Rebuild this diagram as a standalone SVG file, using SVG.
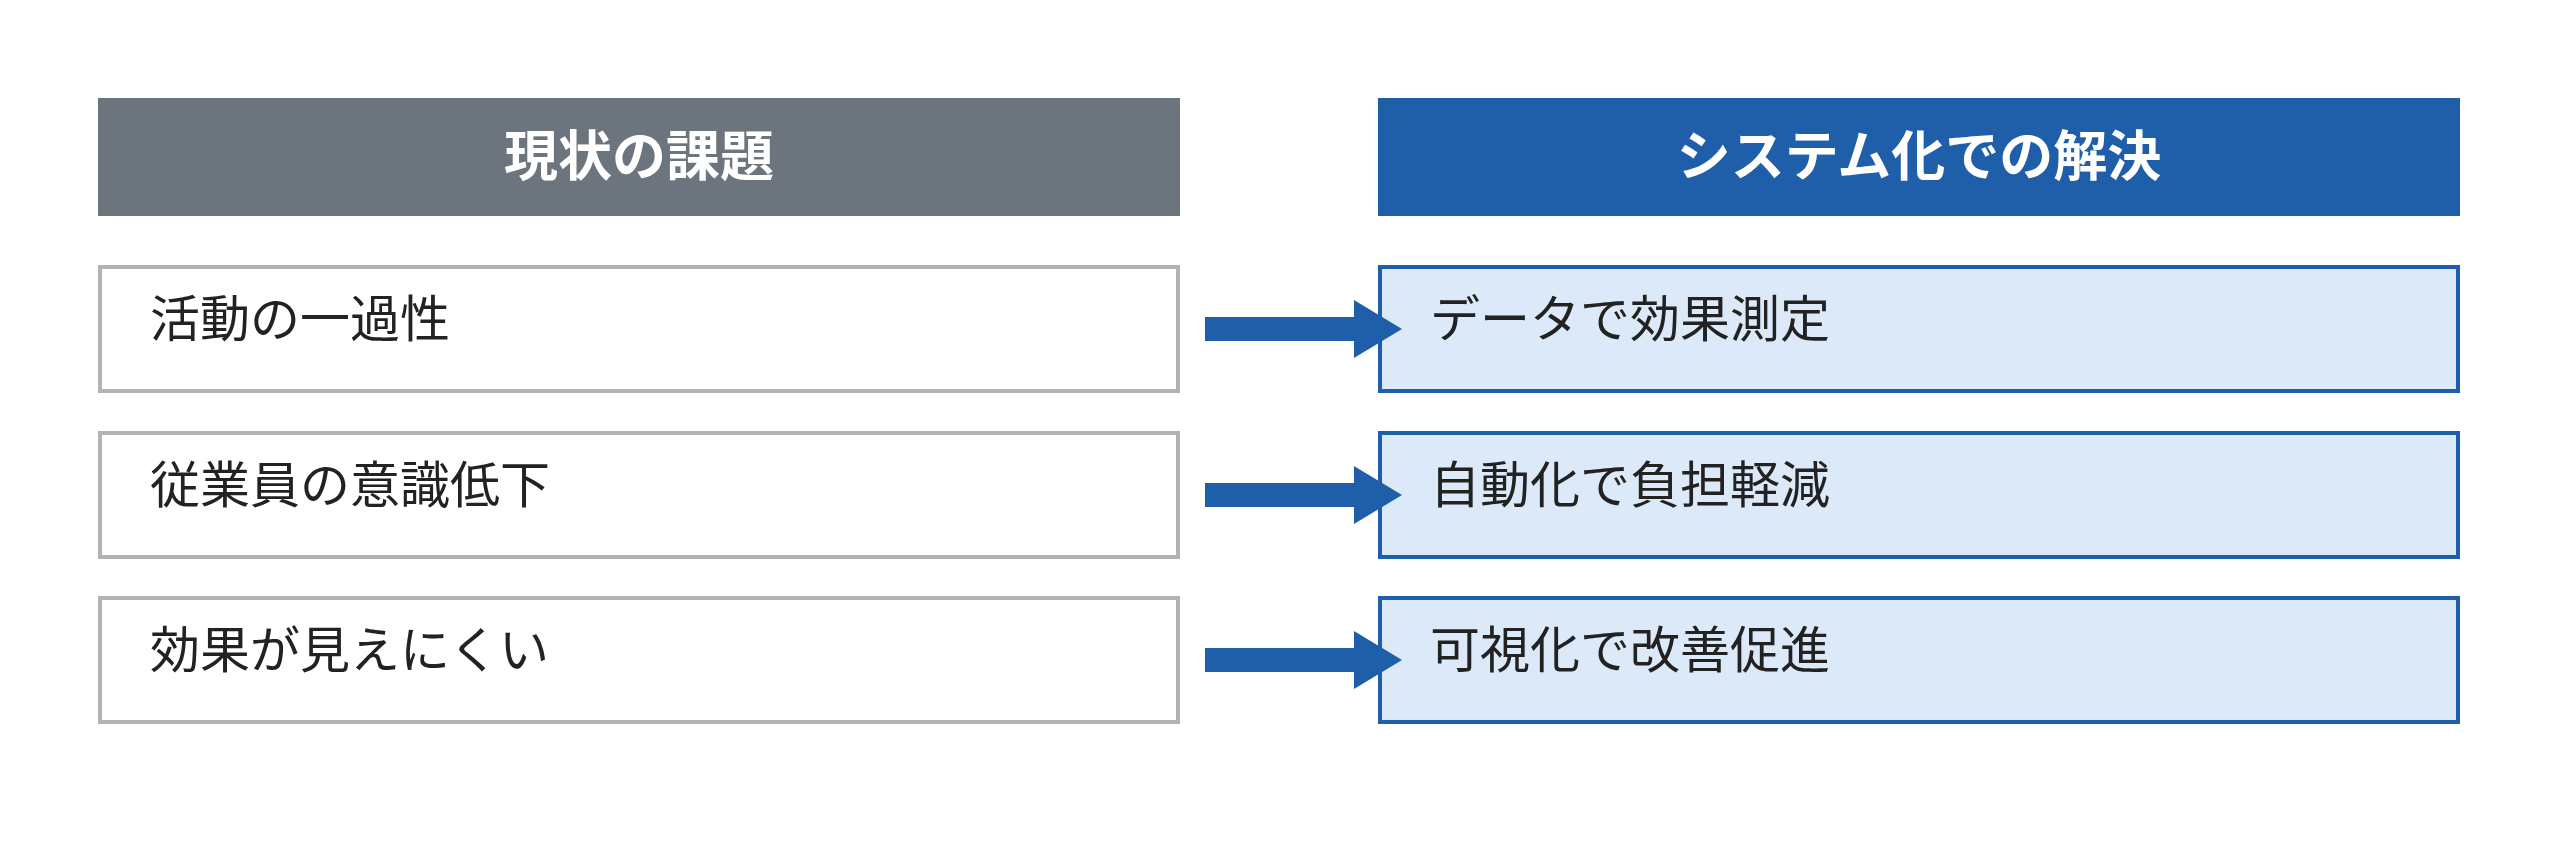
<svg xmlns="http://www.w3.org/2000/svg" width="2560" height="861" viewBox="0 0 2560 861">
<style>
text{font-family:"Noto Sans CJK JP","Noto Sans",sans-serif}
.h{font-size:54px;font-weight:bold;fill:#fff;text-anchor:middle}
.t{font-size:50px;fill:#222}
.l{fill:#fff;stroke:#b3b3b3;stroke-width:4}
.r{fill:#dce9f8;stroke:#1f5faa;stroke-width:4}
.a{fill:#1f5faa}
</style>
<rect width="2560" height="861" fill="#fff"/>
<g id="hdr-left"><rect x="98" y="98" width="1082" height="118" fill="#6c757d"/><text class="h" x="639" y="176">現状の課題</text></g>
<g id="hdr-right"><rect x="1378" y="98" width="1082" height="118" fill="#1f5faa"/><text class="h" x="1919" y="176">システム化での解決</text></g>
<g id="l1"><rect class="l" x="100" y="267" width="1078" height="124"/><text class="t" x="150" y="337">活動の一過性</text></g>
<g id="l2"><rect class="l" x="100" y="433" width="1078" height="124"/><text class="t" x="150" y="503">従業員の意識低下</text></g>
<g id="l3"><rect class="l" x="100" y="598" width="1078" height="124"/><text class="t" x="150" y="668">効果が見えにくい</text></g>
<g id="r1"><rect class="r" x="1380" y="267" width="1078" height="124"/><text class="t" x="1430" y="337">データで効果測定</text></g>
<g id="r2"><rect class="r" x="1380" y="433" width="1078" height="124"/><text class="t" x="1430" y="503">自動化で負担軽減</text></g>
<g id="r3"><rect class="r" x="1380" y="598" width="1078" height="124"/><text class="t" x="1430" y="668">可視化で改善促進</text></g>
<g id="connectors">
<polygon class="a" points="1205,317 1354,317 1354,300 1402,329 1354,358 1354,341 1205,341"/>
<polygon class="a" points="1205,483 1354,483 1354,466 1402,495 1354,524 1354,507 1205,507"/>
<polygon class="a" points="1205,648 1354,648 1354,631 1402,660 1354,689 1354,672 1205,672"/>
</g>
</svg>
